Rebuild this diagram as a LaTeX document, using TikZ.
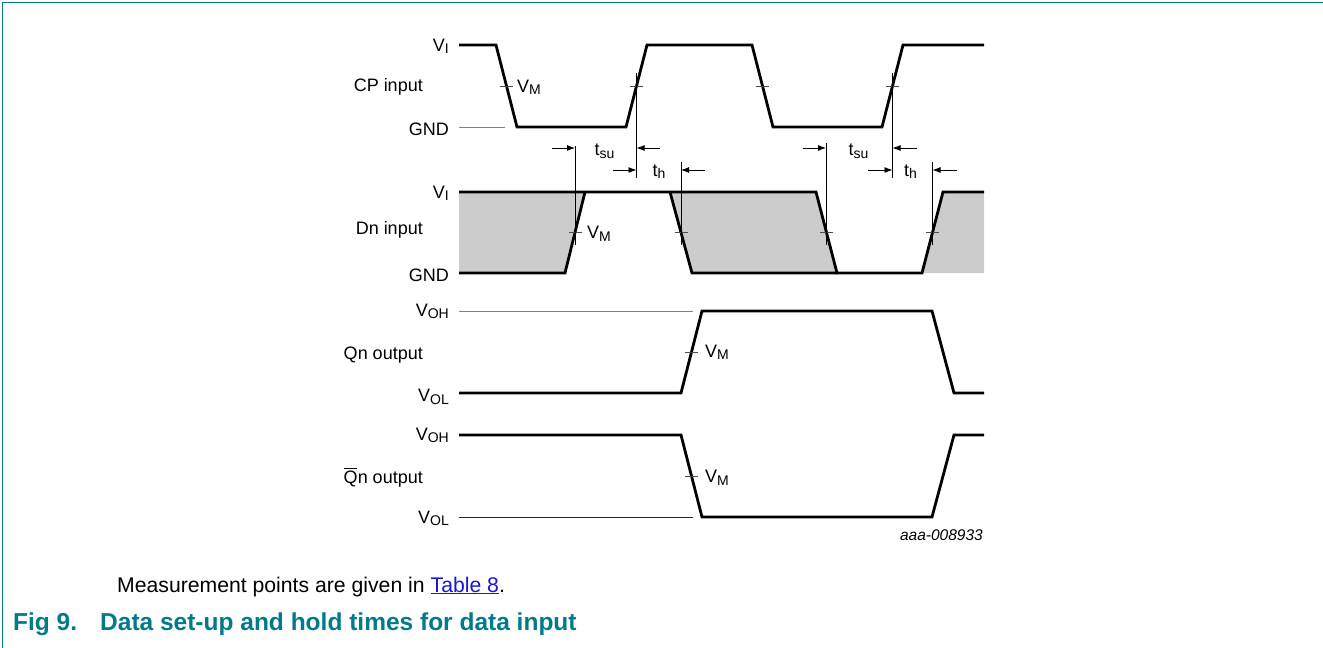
\documentclass[tikz,border=0pt]{standalone}
\usepackage{fontspec}
\setmainfont{Liberation Sans}
\usetikzlibrary{arrows.meta}
\definecolor{nxpteal}{RGB}{0,122,140}
\definecolor{linkblue}{RGB}{20,20,230}
\newcommand\lsub[1]{\raisebox{-2.5pt}{\fontsize{14}{14}\selectfont #1}}
\newcommand\qbar{\rlap{\rule[14.2pt]{13pt}{0.9pt}}Q}
\begin{document}
\begin{tikzpicture}[x=1pt,y=-1pt,
  wave/.style={line width=2.8pt, line join=miter, line cap=butt},
  refline/.style={line width=1pt, black!50},
  refdark/.style={line width=1pt, black!85},
  mtick/.style={line width=0.9pt, black!70},
  vguide/.style={line width=0.9pt, black},
  darr/.style={line width=0.9pt, -{Latex[length=8pt,width=6pt]}},
  lvl/.style={anchor=base east, inner sep=0pt, font=\fontsize{18}{20}\selectfont},
  ann/.style={anchor=base west, inner sep=0pt, font=\fontsize{18}{20}\selectfont},
  captxt/.style={anchor=base west, inner sep=0pt, font=\fontsize{24.5}{27}\selectfont\bfseries, text=nxpteal},
]
\useasboundingbox (0,0) rectangle (1323,648);
% frame
\draw[nxpteal, line width=1.3pt] (2.5,648) -- (2.5,2.3) -- (1323,2.3);

% ---------------- CP input ----------------
\draw[refline] (459,127) -- (505,127);
\draw[wave] (459,45) -- (496,45) -- (517,127) -- (626,127) -- (647,45) -- (752,45) -- (773,127) -- (882,127) -- (903,45) -- (984,45);
\node[lvl] (cpvi) at (449,51) {V\lsub{I}};
\node[lvl] (cplab) at (423,91.7) {CP input};
\node[lvl] (cpgnd) at (449,135) {GND};
\foreach \x in {506.5,636.5,762.5,892.5} \draw[mtick] (\x-6.5,86) -- (\x+6.5,86);
\node[ann] (cpvm) at (517,92) {V\lsub{M}};

% ---------------- Dn input ----------------
\fill[black!20] (459,192) -- (585,192) -- (565,273) -- (459,273) -- cycle;
\fill[black!20] (670,192) -- (816,192) -- (837,273) -- (692,273) -- cycle;
\fill[black!20] (943,192) -- (984,192) -- (984,273) -- (922,273) -- cycle;
\draw[wave] (459,192) -- (816,192) -- (837,273) -- (922,273) -- (943,192) -- (984,192);
\draw[wave] (459,273) -- (565,273) -- (585,192);
\draw[wave] (670,192) -- (692,273) -- (837,273);
\node[lvl] (dnvi) at (449,198) {V\lsub{I}};
\node[lvl] (dnlab) at (423,234) {Dn input};
\node[lvl] (dngnd) at (449,281) {GND};
\foreach \x in {575,681,826.5,932.5} \draw[mtick] (\x-6.5,232.5) -- (\x+6.5,232.5);
\node[ann] (dnvm) at (587,238.5) {V\lsub{M}};

% ---------------- guides and timing arrows ----------------
\coordinate (g1t) at (575,146);   \coordinate (g1b) at (575,245);
\coordinate (g2t) at (636.5,73);  \coordinate (g2b) at (636.5,178);
\coordinate (g3t) at (681,162);   \coordinate (g3b) at (681,245);
\coordinate (g4t) at (826,143);   \coordinate (g4b) at (826,245);
\coordinate (g5t) at (892.5,73);  \coordinate (g5b) at (892.5,178);
\coordinate (g6t) at (932.5,162); \coordinate (g6b) at (932.5,245);
\foreach \i in {1,...,6} \draw[vguide] (g\i t) -- (g\i b);

\coordinate (a1) at (551.5,148); \coordinate (a1e) at (575,148);
\coordinate (a2) at (660,148);   \coordinate (a2e) at (636.5,148);
\coordinate (a3) at (613,170);   \coordinate (a3e) at (636.5,170);
\coordinate (a4) at (705,170);   \coordinate (a4e) at (681,170);
\coordinate (a5) at (802.5,148); \coordinate (a5e) at (826,148);
\coordinate (a6) at (917,148);   \coordinate (a6e) at (892.5,148);
\coordinate (a7) at (868,170);   \coordinate (a7e) at (892.5,170);
\coordinate (a8) at (957,170);   \coordinate (a8e) at (932.5,170);
\foreach \i in {1,...,8} \draw[darr] (a\i) -- (a\i e);

\node[ann] (tsu1) at (594.3,155.5) {t\lsub{su}};
\node[ann] (th1) at (652.3,176) {t\lsub{h}};
\node[ann] (tsu2) at (848.3,155.5) {t\lsub{su}};
\node[ann] (th2) at (904,176) {t\lsub{h}};

% ---------------- Qn output ----------------
\draw[refline] (459,311) -- (693,311);
\draw[wave] (459,393) -- (681,393) -- (702,311) -- (932,311) -- (954,393) -- (984,393);
\node[lvl] (qvoh) at (449,316) {V\lsub{OH}};
\node[lvl] (qlab) at (423,359.3) {Qn output};
\node[lvl] (qvol) at (449,401.5) {V\lsub{OL}};
\draw[mtick] (685,352) -- (698,352);
\node[ann] (qvm) at (705,357) {V\lsub{M}};

% ---------------- Qn-bar output ----------------
\draw[refdark] (459,517) -- (693,517);
\draw[wave] (459,435) -- (681,435) -- (702,517) -- (932,517) -- (954,435) -- (984,435);
\node[lvl] (qbvoh) at (449,440) {V\lsub{OH}};
\node[lvl] (qblab) at (423,483.3) {\qbar n output};
\node[lvl] (qbvol) at (449,523) {V\lsub{OL}};
\draw[mtick] (685,476) -- (698,476);
\node[ann] (qbvm) at (705,482.5) {V\lsub{M}};

\node[anchor=base east, inner sep=0pt, font=\fontsize{15.5}{17}\selectfont\itshape] (code) at (983,540) {aaa-008933};

% ---------------- caption ----------------
\node[anchor=base west, inner sep=0pt, font=\fontsize{21.2}{24}\selectfont] (note) at (117,592) {Measurement points are given in \textcolor{linkblue}{\underline{Table 8}}.};
\node[captxt] (fig) at (13,630) {Fig 9.};
\node[captxt] (title) at (100,630) {Data set-up and hold times for data input};
\end{tikzpicture}
\end{document}
